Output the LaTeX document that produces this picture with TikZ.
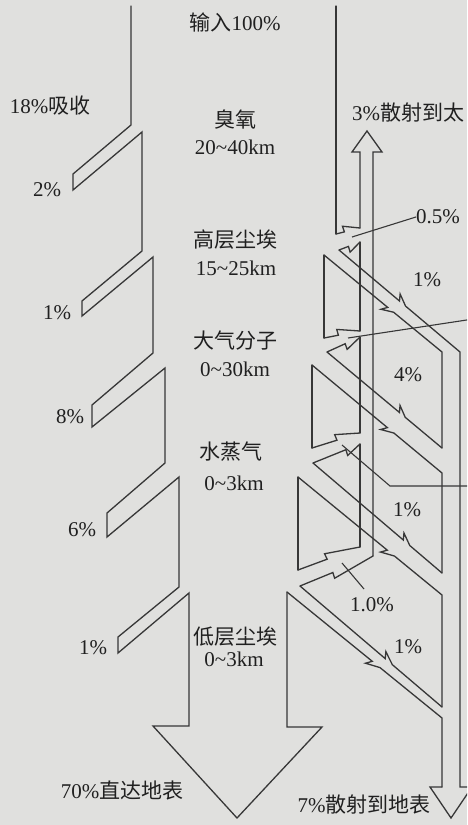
\documentclass[tikz,border=0pt]{standalone}
\usepackage{fontspec}
\setmainfont{Liberation Serif}
\newfontfamily\cjk{Noto Sans CJK SC}
\usetikzlibrary{calc}
\definecolor{paper}{RGB}{224,224,222}
\definecolor{ink}{RGB}{55,55,55}
\definecolor{txt}{RGB}{32,32,32}
\newcommand\barbedge[7]{\draw[edge] (#1) -- ($(#1)!#3!(#2)$) coordinate (bQ) -- ($(bQ)!#5!#4:(#2)$) -- ($(#1)!#6!(#2)$) -- (#2) #7;}
\begin{document}
\begin{tikzpicture}[x=1pt,y=-1pt,
  edge/.style={draw=ink, line width=1.3pt, line cap=round, line join=miter},
  leader/.style={draw=ink, line width=1.1pt},
  lbl/.style={font=\fontsize{21}{25}\selectfont, text=txt, inner sep=0pt}]
\useasboundingbox (0,0) rectangle (467,825);
\clip (0,0) rectangle (467,825);
\fill[paper] (0,0) rectangle (467,825);

% ---- key points, right side ----
\coordinate (R0) at (336,6);
\coordinate (R1) at (336,234);
\coordinate (S1t) at (360,228);
\coordinate (S1b) at (360,242);
\coordinate (U1l) at (339,250);
\coordinate (M1) at (324,255);
\coordinate (M1b) at (324,338);
\coordinate (S2t) at (360,331);
\coordinate (S2b) at (360,337);
\coordinate (U2l) at (327,352);
\coordinate (M2) at (312,365);
\coordinate (M2b) at (312,448);
\coordinate (S3t) at (360,433);
\coordinate (S3b) at (360,444);
\coordinate (U3l) at (313,463);
\coordinate (M3) at (298,477);
\coordinate (M3b) at (298,570);
\coordinate (S4t) at (360,547);
\coordinate (S4r) at (373,556);
\coordinate (U4l) at (300,586);
\coordinate (M4) at (287,592);
\coordinate (F1r) at (460,352);
\coordinate (F1l) at (442,352);
\coordinate (F2t) at (442,448);
\coordinate (F2b) at (442,473);
\coordinate (F3t) at (442,573);
\coordinate (F3b) at (442,595);
\coordinate (F4t) at (442,707);
\coordinate (F4b) at (442,718);

% ---- big arrow: left edge with absorption notches, arrowhead ----
\draw[edge] (131,6) -- (131,125) -- (73,174) -- (73,190) -- (142,132) -- (142,251)
  -- (82,301) -- (82,316) -- (153,257) -- (153,353)
  -- (92,405) -- (92,427) -- (165,368) -- (165,463)
  -- (107,513) -- (107,537) -- (179,477) -- (179,587)
  -- (118,637) -- (118,653) -- (189,593) -- (189,726)
  -- (153,726) -- (237,818) -- (322,727) -- (287,727) -- (M4);

% ---- big arrow: right edge segments ----
\draw[edge] (R0) -- (R1);
\draw[edge] (M1) -- (M1b);
\draw[edge] (M2) -- (M2b);
\draw[edge] (M3) -- (M3b);

% ---- upward scattering bands ----
\barbedge{R1}{S1t}{0.35}{95}{6pt}{1}{}
\barbedge{U1l}{S1b}{0.45}{-95}{6pt}{1}{}
\barbedge{M1b}{S2t}{0.4}{95}{6pt}{1}{}
\barbedge{U2l}{S2b}{0.55}{-95}{6pt}{1}{}
\barbedge{M2b}{S3t}{0.52}{95}{6pt}{1}{}
\barbedge{U3l}{S3b}{0.7}{-95}{6pt}{1}{}
\barbedge{M3b}{S4t}{0.47}{95}{6pt}{1}{}
\barbedge{U4l}{S4r}{0.45}{-95}{6pt}{1}{}

% ---- 3% upward shaft ----
\draw[edge] (S1t) -- (360,152) -- (352,152) -- (367,131) -- (382,152) -- (373,152) -- (S4r);
\draw[edge] (S1b) -- (S2t);
\draw[edge] (S2b) -- (S3t);
\draw[edge] (S3b) -- (S4t);

% ---- downward scattering bands and 7% shaft ----
\barbedge{U1l}{F1r}{0.5}{125}{7pt}{0.55}{-- (460,787) -- (472,787) -- (451,818) -- (430,787) -- (442,787)}
\barbedge{M1}{F1l}{0.54}{-125}{7pt}{0.59}{-- (F2t)}
\barbedge{U2l}{F2t}{0.63}{125}{7pt}{0.68}{}
\barbedge{M2}{F2b}{0.58}{-125}{7pt}{0.63}{-- (F3t)}
\barbedge{U3l}{F3t}{0.7}{125}{7pt}{0.75}{}
\barbedge{M3}{F3b}{0.62}{-125}{7pt}{0.67}{-- (F4t)}
\barbedge{U4l}{F4t}{0.6}{125}{7pt}{0.65}{}
\barbedge{M4}{F4b}{0.55}{-125}{7pt}{0.6}{-- (442,787)}

% ---- labels ----
\node[lbl] (tin) at (235,22) {{\cjk 输入}100\%};
\node[lbl] (tabs) at (50,106) {18\%{\cjk 吸收}};
\node[lbl] (tozo) at (235,120) {\cjk 臭氧};
\node[lbl] (tozoh) at (235,147) {20\textasciitilde40km};
\node[lbl] (ta1) at (47,190) {2\%};
\node[lbl] (thd) at (235,240) {\cjk 高层尘埃};
\node[lbl] (thdh) at (236,268) {15\textasciitilde25km};
\node[lbl] (ta2) at (57,313) {1\%};
\node[lbl] (tmol) at (235,341) {\cjk 大气分子};
\node[lbl] (tmolh) at (235,369) {0\textasciitilde30km};
\node[lbl] (ta3) at (70,417) {8\%};
\node[lbl] (twv) at (231,452) {\cjk 水蒸气};
\node[lbl] (twvh) at (234,483) {0\textasciitilde3km};
\node[lbl] (ta4) at (82,530) {6\%};
\node[lbl] (tld) at (235,637) {\cjk 低层尘埃};
\node[lbl] (tldh) at (234,659) {0\textasciitilde3km};
\node[lbl] (ta5) at (93,648) {1\%};
\node[lbl] (tdir) at (122,790) {70\%{\cjk 直达地表}};
\node[lbl] (tdown) at (364,805) {7\%{\cjk 散射到地表}};
\node[lbl, anchor=west] (tup) at (352,113) {3\%{\cjk 散射到太}};
\node[lbl] (l05) at (438,217) {0.5\%};
\node[lbl] (d1) at (427,280) {1\%};
\node[lbl] (d2) at (408,375) {4\%};
\node[lbl] (d3) at (407,510) {1\%};
\node[lbl] (l10) at (372,605) {1.0\%};
\node[lbl] (d4) at (408,647) {1\%};

% ---- leader lines ----
\coordinate (ld1) at (352,237);
\draw[leader] (ld1) -- (l05.west);
\coordinate (ld2) at (348,338);
\coordinate (ld2e) at (470,319.5);
\draw[leader] (ld2) -- (ld2e);
\coordinate (ld3) at (342,445);
\coordinate (ld3k) at (390,486);
\coordinate (ld3e) at (470,486);
\draw[leader] (ld3) -- (ld3k) -- (ld3e);
\coordinate (ld4) at (342,563);
\coordinate (ld4e) at (364,589);
\draw[leader] (ld4) -- (ld4e);
\end{tikzpicture}
\end{document}
